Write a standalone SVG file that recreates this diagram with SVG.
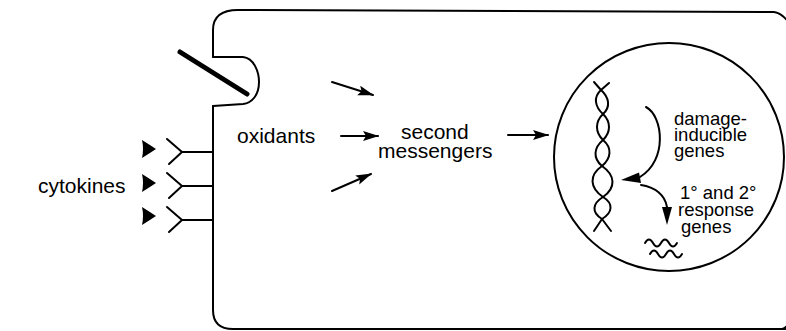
<svg xmlns="http://www.w3.org/2000/svg" width="786" height="331" viewBox="0 0 786 331">
  <style>
    .ln { fill: none; stroke: #000; stroke-width: 2; stroke-linecap: round; stroke-linejoin: round; }
    .fill { fill: #000; stroke: none; }
    text { font-family: "Liberation Sans", Arial, Helvetica, sans-serif; fill: #000; }
    .big { font-size: 21px; }
    .small { font-size: 18.5px; }
  </style>
  <defs>
    <marker id="head" markerUnits="userSpaceOnUse" markerWidth="17" markerHeight="12" refX="15" refY="5" orient="auto">
      <path d="M0,0 L16,5 L0,10 L3,5 z" fill="#000"/>
    </marker>
  </defs>

  <rect width="786" height="331" fill="#fff"/>

  <!-- cell membrane with the notch holding the bar -->
  <g id="cell">
    <path class="ln" d="M213,106 L213,310 Q213,329 233,329 L786,329"/>
    <path class="ln" d="M213,57 L213,30 Q213,10 238,10 L774,12 Q782,13 790,24"/>
    <path class="ln" d="M213,57 L243,57 C254,58 259,72 259,82 C259,95 252,103 243,104 L213,106"/>
    <path class="ln" d="M782,329 Q786,328 790,322"/>
    <line x1="180" y1="52" x2="247" y2="94" stroke="#000" stroke-width="5" stroke-linecap="round"/>
  </g>

  <!-- cytokines and their receptors -->
  <g id="cytokines">
    <text class="big" x="38" y="193">cytokines</text>
    <path class="fill" d="M142,140 Q150,145 156,149 Q150,153 142,158 Q144,149 142,140 z"/>
    <path class="fill" d="M142,174 Q150,179 156,183 Q150,187 142,192 Q144,183 142,174 z"/>
    <path class="fill" d="M142,207 Q150,212 156,216 Q150,220 142,225 Q144,216 142,207 z"/>
  </g>
  <g id="receptors">
    <path class="ln" d="M167,139 L182,152 L169,164 M182,152 L213,152"/>
    <path class="ln" d="M167,173 L182,186 L169,198 M182,186 L213,186"/>
    <path class="ln" d="M167,207 L182,220 L169,232 M182,220 L213,220"/>
  </g>

  <g id="oxidants">
    <text class="big" x="237" y="143">oxidants</text>
  </g>

  <g id="second-messengers">
    <text class="big" x="401" y="139">second</text>
    <text class="big" x="378" y="158">messengers</text>
  </g>

  <!-- nucleus -->
  <g id="nucleus">
    <ellipse class="ln" cx="669" cy="157" rx="115" ry="114"/>
    <g id="dna">
      <path class="ln" d="M594,82 L601,90 C609,97.2 611,106.8 603,114 C595,121.8 595,132.2 603,140 C612.3,147.8 611.3,158.2 602,166 C588.7,175.3 589.7,187.7 603,197 C613.7,203.6 612.7,212.4 602,219 L594,231"/>
      <path class="ln" d="M609,83 L601,90 C593,97.2 595,106.8 603,114 C611,121.8 611,132.2 603,140 C593.7,147.8 592.7,158.2 602,166 C615.3,175.3 616.3,187.7 603,197 C592.3,203.6 591.3,212.4 602,219 L611,231"/>
    </g>
    <text class="small" x="674" y="125">damage-</text>
    <text class="small" x="674" y="141">inducible</text>
    <text class="small" x="674" y="157">genes</text>
    <text class="small" x="680" y="199">1° and 2°</text>
    <text class="small" x="678" y="216">response</text>
    <text class="small" x="681" y="233">genes</text>
    <g id="mrna">
      <path class="ln" d="M645,243 q4,-7 8,0 t8,0 t8,0 t8,0"/>
      <path class="ln" d="M650,254 q4,-7 8,0 t8,0 t8,0 t8,0"/>
    </g>
  </g>

  <!-- connectors -->
  <g id="connectors">
    <line class="ln" x1="332" y1="82" x2="373" y2="95" marker-end="url(#head)"/>
    <line class="ln" x1="341" y1="136" x2="378" y2="136" marker-end="url(#head)"/>
    <line class="ln" x1="332" y1="191" x2="371" y2="174" marker-end="url(#head)"/>
    <line class="ln" x1="508" y1="135" x2="548" y2="135" marker-end="url(#head)"/>
    <path class="ln" d="M646,107 C663,116 668,160 640,177"/>
    <path class="fill" d="M621,180 L639,172.5 L641,183 z"/>
    <path class="ln" d="M641,185 C655,187 665,195 667,207"/>
    <path class="fill" d="M667,225 L662,207 L672,207 z"/>
  </g>
</svg>
